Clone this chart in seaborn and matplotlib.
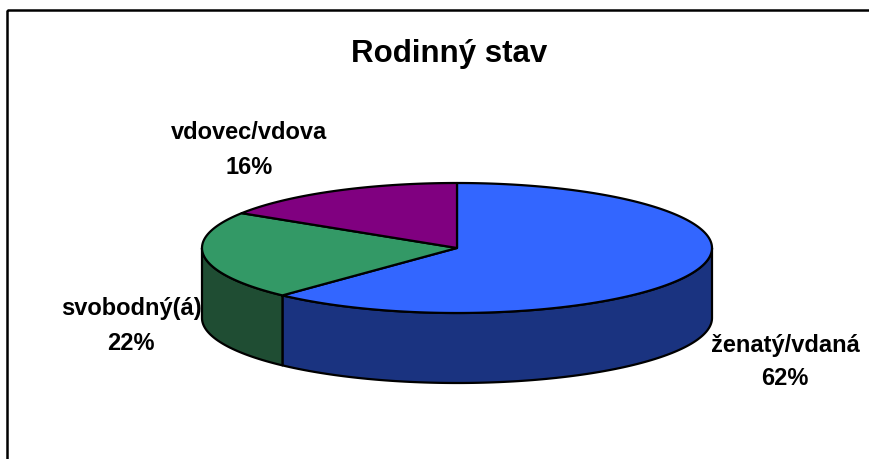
import numpy as np
import matplotlib
matplotlib.use("Agg")
import matplotlib.pyplot as plt
from matplotlib.patches import Polygon, Rectangle
import seaborn as sns

# ---- data ----
categories = ["ženatý/vdaná", "svobodný(á)", "vdovec/vdova"]
values = [62, 22, 16]
top_colors = ["#3366FF", "#339966", "#800080"]
side_colors = ["#1A3380", "#1F4D33", "#400040"]
title = "Rodinný stav"

sns.set_theme(style="white")
plt.rcParams["font.family"] = ["Liberation Sans", "DejaVu Sans"]

W, H = 869, 459
fig = plt.figure(figsize=(W / 100, H / 100), dpi=100)
ax = fig.add_axes([0, 0, 1, 1])
ax.set_xlim(0, W)
ax.set_ylim(H, 0)
ax.axis("off")

# geometry of the 3-D pie (pixel space)
cx, cy = 457, 248
a, b = 255, 65
depth = 70

def pt(theta_deg, dy=0):
    t = np.radians(theta_deg)
    return cx + a * np.cos(t), cy - b * np.sin(t) + dy

total = float(sum(values))
# Excel style: start at 12 o'clock, go clockwise
starts, ends = [], []
ang = 90.0
for v in values:
    sweep = 360.0 * v / total
    starts.append(ang)
    ends.append(ang - sweep)
    ang -= sweep

lw = 1.6
# side walls (front half: theta in [180, 360])
for s, e, sc in zip(starts, ends, side_colors):
    lo, hi = min(s, e), max(s, e)
    for shift in (0, 360, -360):
        l2, h2 = lo + shift, hi + shift
        l3, h3 = max(l2, 180), min(h2, 360)
        if h3 > l3:
            th = np.linspace(l3, h3, 120)
            topp = [pt(t) for t in th]
            bot = [pt(t, depth) for t in th[::-1]]
            poly = Polygon(topp + bot, closed=True, facecolor=sc,
                           edgecolor="black", lw=lw, joinstyle="round", zorder=1)
            ax.add_patch(poly)

# top faces
for s, e, tc in zip(starts, ends, top_colors):
    th = np.linspace(s, e, 200)
    pts = [(cx, cy)] + [pt(t) for t in th]
    ax.add_patch(Polygon(pts, closed=True, facecolor=tc, edgecolor="black",
                         lw=lw, joinstyle="round", zorder=2))

# labels (x centre, baseline of first line, baseline of second line)
label_pos = [(785, 352, 385), (131, 315, 350), (249, 139, 174)]
for cat, v, (lx, y1, y2) in zip(categories, values, label_pos):
    pct = int(round(100 * v / total))
    ax.text(lx, y1, cat, ha="center", va="baseline",
            fontsize=17, fontweight="bold", color="black")
    ax.text(lx, y2, f"{pct}%", ha="center", va="baseline",
            fontsize=17, fontweight="bold", color="black")

ax.text(449, 62, title, ha="center", va="baseline", fontsize=22.5,
        fontweight="bold", color="black")

# chart frame (partially cropped)
ax.add_patch(Rectangle((7, 10), 1000, 1000, fill=False, edgecolor="black",
                       lw=1.8, zorder=5))

fig.savefig("out.png", dpi=100)
